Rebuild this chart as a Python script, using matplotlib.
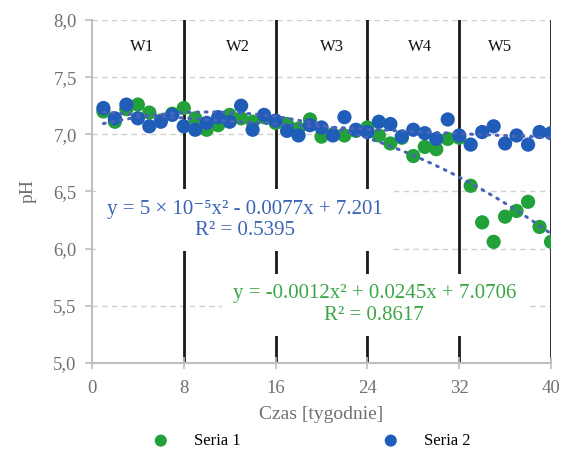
import matplotlib
matplotlib.use("Agg")
import matplotlib.pyplot as plt
import numpy as np

weeks = list(range(1, 41))
seria1 = [7.20, 7.11, 7.22, 7.26, 7.19, 7.12, 7.18, 7.23, 7.14, 7.04,
          7.08, 7.17, 7.14, 7.11, 7.15, 7.10, 7.09, 7.05, 7.13, 6.98,
          7.00, 6.99, 7.03, 7.06, 6.99, 6.92, 6.97, 6.81, 6.89, 6.87,
          6.96, 6.97, 6.55, 6.23, 6.06, 6.28, 6.33, 6.41, 6.19, 6.06]
seria2 = [7.23, 7.14, 7.26, 7.14, 7.07, 7.11, 7.17, 7.07, 7.04, 7.10,
          7.15, 7.11, 7.25, 7.04, 7.17, 7.12, 7.03, 6.99, 7.08, 7.06,
          6.99, 7.15, 7.04, 7.02, 7.11, 7.09, 6.98, 7.04, 7.01, 6.96,
          7.13, 6.99, 6.91, 7.02, 7.07, 6.92, 6.99, 6.91, 7.02, 7.01]
fit1 = [-0.0012, 0.0245, 7.0706]
fit2 = [5e-5, -0.0077, 7.201]
eq1 = "y = -0.0012x² + 0.0245x + 7.0706\nR² = 0.8617"
eq2 = "y = 5 × 10⁻⁵x² - 0.0077x + 7.201\nR² = 0.5395"
xticks = [0, 8, 16, 24, 32, 40]
yticks = [5.0, 5.5, 6.0, 6.5, 7.0, 7.5, 8.0]
ytick_labels = ["5,0", "5,5", "6,0", "6,5", "7,0", "7,5", "8,0"]
stages = ["W1", "W2", "W3", "W4", "W5"]
stage_x = [4.4, 12.7, 20.9, 28.6, 35.6]
boundaries = [8, 16, 24, 32, 40]

serif = ["Liberation Serif", "DejaVu Serif"]
plt.rcParams["font.family"] = serif

green = "#22A03A"
blue = "#1F5DB8"
gray = "#707070"

fig = plt.figure(figsize=(5.64, 4.54), dpi=100)
ax = fig.add_axes([0.163, 0.2004, 0.814, 0.7556])
ax.set_xlim(0, 40)
ax.set_ylim(5.0, 8.0)

for y in yticks[1:]:
    ax.axhline(y, color="#D0D0D0", lw=1.0, ls=(0, (4, 3)), zorder=0)
for b in boundaries:
    ax.axvline(b, color="#1a1a1a", lw=2.0, zorder=1)

ax.scatter(weeks, seria1, s=105, color=green, edgecolors="none", zorder=3, label="Seria 1")
ax.scatter(weeks, seria2, s=105, color=blue, edgecolors="none", zorder=4, label="Seria 2")

xx = np.linspace(min(weeks), max(weeks), 200)
for f in (fit1, fit2):
    ax.plot(xx, np.polyval(f, xx), color="#4a62b8", lw=2.2, ls=(0, (0.6, 2.2)),
            dash_capstyle="round", zorder=5)

for s, sx in zip(stages, stage_x):
    ax.text(sx, 7.765, s, ha="center", va="center", fontsize=12, color="#111111", zorder=6)

ax.text(13.3, 6.25, eq2, ha="center", va="center", fontsize=15, color="#3A64B4",
        linespacing=1.2, zorder=6,
        bbox=dict(boxstyle="square,pad=0.5", fc="white", ec="none"))
ax.text(24.6, 5.51, eq1, ha="center", va="center", fontsize=15, color="#3BA646",
        linespacing=1.2, zorder=6,
        bbox=dict(boxstyle="square,pad=0.5", fc="white", ec="none"))

ax.set_xticks(xticks)
ax.set_yticks(yticks)
ax.set_yticklabels(ytick_labels)
ax.tick_params(axis="both", colors="#BFBFBF", labelcolor=gray, labelsize=13.5, width=1.2)
ax.tick_params(axis="x", direction="inout", length=8, pad=8)
ax.tick_params(axis="y", direction="out", length=5, pad=6)
for sp in ("top", "right"):
    ax.spines[sp].set_visible(False)
for sp in ("left", "bottom"):
    ax.spines[sp].set_color("#BFBFBF")
    ax.spines[sp].set_linewidth(1.5)

ax.set_xlabel("Czas [tygodnie]", fontsize=14, color=gray, labelpad=7)
ax.set_ylabel("pH", fontsize=14, color=gray, labelpad=12)

fig.legend(loc="lower center", bbox_to_anchor=(0.545, -0.022), ncol=2, frameon=False,
           fontsize=12, columnspacing=8, handletextpad=1.0, markerscale=0.85)

fig.savefig("out.png", dpi=100)
